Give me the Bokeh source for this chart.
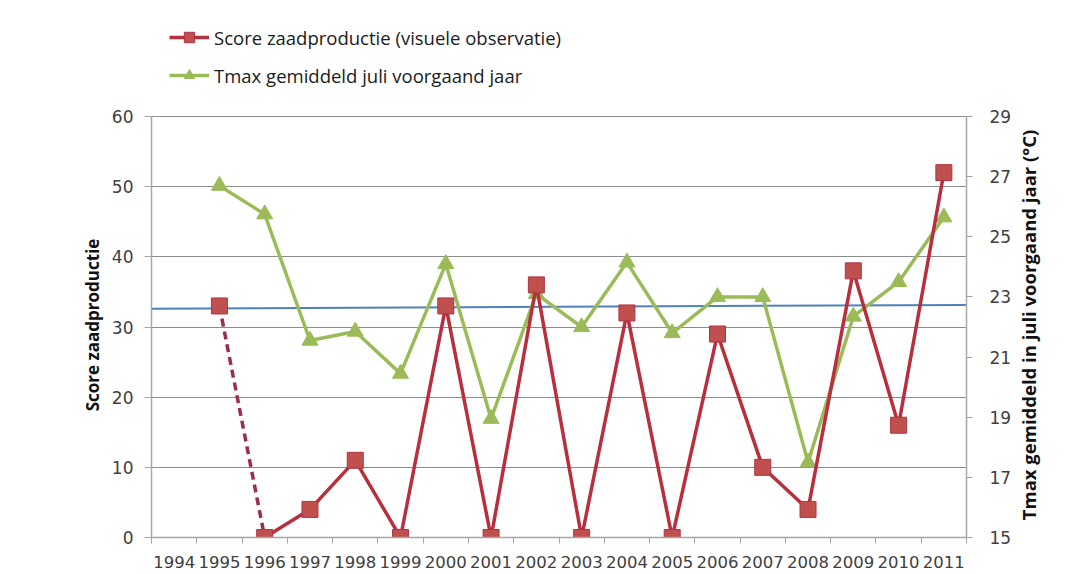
import math
from bokeh.plotting import figure
from bokeh.layouts import row
from bokeh.models import Range1d, LinearAxis, FixedTicker, Legend, LegendItem
from bokeh.core.properties import value
from bokeh.embed import file_html
from bokeh.resources import INLINE

# ---- data ----
years_axis = list(range(1994, 2012))
years = list(range(1995, 2012))
score = [33, 0, 4, 11, 0, 33, 0, 36, 0, 32, 0, 29, 10, 4, 38, 16, 52]
tmax = [26.7, 25.75, 21.55, 21.85, 20.45, 24.1, 18.95, 23.1, 22.0, 24.15,
        21.8, 23.0, 23.0, 17.5, 22.35, 23.5, 25.65]
trend_x = [1993.5, 2011.5]
trend_y = [32.6, 33.15]
left_ticks = [0, 10, 20, 30, 40, 50, 60]
right_ticks = [15, 17, 19, 21, 23, 25, 27, 29]
label_score = "Score zaadproductie (visuele observatie)"
label_tmax = "Tmax gemiddeld juli voorgaand jaar"
title_left = "Score zaadproductie"
title_right = "Tmax gemiddeld in juli voorgaand jaar (°C)"

RED = "#C0504D"
RED_LINE = "#B8303E"
RED_DASH = "#9A2E4E"
GREEN = "#9BBB59"
BLUE = "#4F81BD"
GRID = "#8C8C8C"
AXIS = "#A6A6A6"
TXT = "#404040"

# ---- layout constants (pixels) ----
W, H = 1084, 574
LT_W, RT_W = 108, 70            # title strips
MAIN_W = W - LT_W - RT_W
FRAME_L, FRAME_R = 150, 967     # absolute x of plot frame
AX_TOP, AX_BOT = 116, 537       # absolute y of top / bottom tick
TOP = 10                        # frame top (extended to host the legend)
TITLE_NUDGE = 16                # measured-vs-drawn text centring correction
frame_h = AX_BOT - TOP
axis_h = AX_BOT - AX_TOP
l_lo, l_hi = left_ticks[0], left_ticks[-1]
r_lo, r_hi = right_ticks[0], right_ticks[-1]
l_top = l_lo + (l_hi - l_lo) * frame_h / axis_h
r_top = r_lo + (r_hi - r_lo) * frame_h / axis_h

# ---------------- main chart ----------------
p = figure(width=MAIN_W, height=H, output_backend="svg", toolbar_location=None,
           x_range=Range1d(years_axis[0] - 0.5, years_axis[-1] + 0.5),
           y_range=Range1d(l_lo, l_top),
           min_border_left=FRAME_L - LT_W, min_border_right=(LT_W + MAIN_W) - FRAME_R,
           min_border_top=TOP, min_border_bottom=H - AX_BOT)
p.extra_y_ranges = {"t": Range1d(r_lo, r_top)}
p.background_fill_color = "white"
p.border_fill_color = "white"
p.outline_line_color = None

p.xgrid.grid_line_color = None
p.ygrid.grid_line_color = GRID
p.ygrid.grid_line_width = 1.2
p.ygrid.ticker = FixedTicker(ticks=left_ticks[1:])

xa = p.xaxis[0]
xa.ticker = FixedTicker(ticks=years_axis,
                        minor_ticks=[y - 0.5 for y in years_axis] + [years_axis[-1] + 0.5])
xa.major_tick_line_color = None
xa.major_tick_out = 0
xa.major_tick_in = 0
xa.minor_tick_line_color = AXIS
xa.minor_tick_out = 6
xa.minor_tick_in = 0
xa.axis_line_color = AXIS
xa.axis_line_width = 1.5
xa.major_label_text_font = "DejaVu Sans"
xa.major_label_text_font_size = "16.5px"
xa.major_label_text_color = TXT
xa.major_label_standoff = 12

ya = p.yaxis[0]
ya.ticker = FixedTicker(ticks=left_ticks)
ya.bounds = (l_lo, l_hi)
ya.minor_tick_line_color = None
ya.major_tick_out = 7
ya.major_tick_in = 0
ya.major_tick_line_color = AXIS
ya.axis_line_color = AXIS
ya.axis_line_width = 1.5
ya.major_label_text_font = "DejaVu Sans"
ya.major_label_text_font_size = "17px"
ya.major_label_text_color = TXT
ya.major_label_standoff = 11

ra = LinearAxis(y_range_name="t", ticker=FixedTicker(ticks=right_ticks))
ra.bounds = (r_lo, r_hi)
ra.minor_tick_line_color = None
ra.major_tick_out = 6
ra.major_tick_in = 0
ra.major_tick_line_color = AXIS
ra.axis_line_color = AXIS
ra.axis_line_width = 1.5
ra.major_label_text_font = "DejaVu Sans"
ra.major_label_text_font_size = "17px"
ra.major_label_text_color = TXT
ra.major_label_standoff = 17
p.add_layout(ra, "right")

p.line(trend_x, trend_y, line_color=BLUE, line_width=2)
g_line = p.line(years, tmax, y_range_name="t", line_color=GREEN, line_width=3.5)
g_mark = p.scatter(years, tmax, y_range_name="t", marker="triangle", size=16,
                   fill_color=GREEN, line_color=GREEN)
p.line(years[:2], score[:2], line_color=RED_DASH, line_width=3.5, line_dash="8 5")
r_line = p.line(years[1:], score[1:], line_color=RED_LINE, line_width=3.5)
r_mark = p.scatter(years, score, marker="square", size=16,
                   fill_color=RED, line_color="#B03344", line_width=1)

legend = Legend(items=[
    LegendItem(label=label_score, renderers=[r_line, r_mark]),
    LegendItem(label=label_tmax, renderers=[g_line, g_mark]),
], location=(18, AX_BOT - 88))
legend.border_line_color = None
legend.background_fill_alpha = 0
legend.padding = 0
legend.margin = 0
legend.spacing = 12
legend.label_height = 26
legend.glyph_height = 26
legend.glyph_width = 40
legend.label_standoff = 5
legend.label_text_font = "Open Sans"
legend.label_text_font_size = "18.5px"
legend.label_text_color = "#202020"
p.add_layout(legend, "center")

# ---------------- axis-title strips ----------------
def title_strip(width, cx, text, size):
    f = figure(width=width, height=H, output_backend="svg", toolbar_location=None,
               x_range=Range1d(0, width), y_range=Range1d(0, H),
               x_axis_location=None, y_axis_location=None,
               min_border_left=0, min_border_right=0, min_border_top=0, min_border_bottom=0)
    f.grid.visible = False
    f.outline_line_color = None
    f.background_fill_color = "white"
    f.border_fill_color = "white"
    cy = H - (AX_TOP + AX_BOT) / 2 - TITLE_NUDGE
    f.text(x=[cx], y=[cy], text=[text], angle=math.pi / 2,
           text_align="center", text_baseline="middle",
           text_font=value("Open Sans"), text_font_style="bold",
           text_font_size=size, text_color="#111111")
    return f

lt = title_strip(LT_W, 92, title_left, "17px")
rt = title_strip(RT_W, 1028 - (LT_W + MAIN_W), title_right, "18.5px")

layout = row(lt, p, rt, spacing=0)
open("out.html", "w").write(file_html(layout, INLINE))
